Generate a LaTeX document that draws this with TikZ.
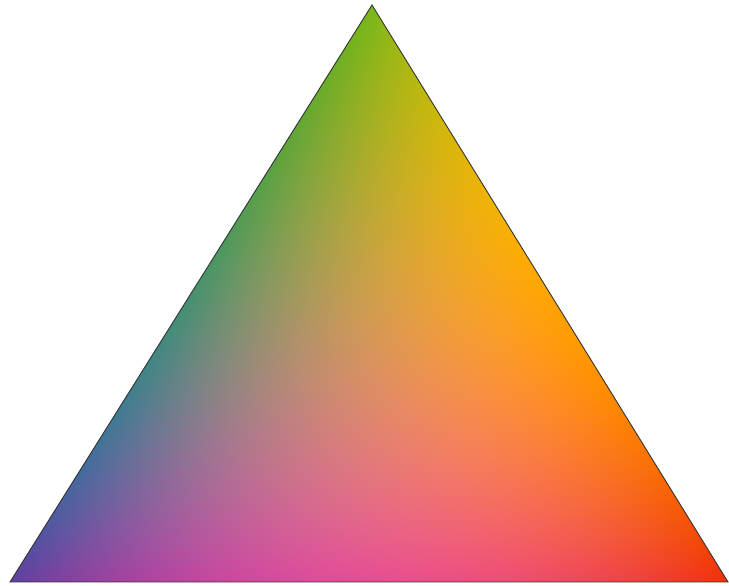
\documentclass[tikz,border=0pt]{standalone}
\usepackage{tikz}
\pgfdeclarefunctionalshading{trishade}{\pgfpointorigin}{\pgfpoint{729bp}{586bp}}{}{%
 4 sub 577 div exch 1 index 362 mul 10 add sub 718 div
 2 copy add 1 exch sub exch
 2 index dup 3 mul 1 sub 1 index 3 mul 2 sub mul mul 0.5 mul
 2 index dup 3 mul 1 sub 1 index 3 mul 2 sub mul mul 0.5 mul
 2 index dup 3 mul 1 sub 1 index 3 mul 2 sub mul mul 0.5 mul
 5 index 5 index 1 index 3 mul 1 sub mul mul 4.5 mul
 5 index 7 index 1 index 3 mul 1 sub mul mul 4.5 mul
 7 index 6 index 1 index 3 mul 1 sub mul mul 4.5 mul
 6 index 9 index 1 index 3 mul 1 sub mul mul 4.5 mul
 8 index 8 index 1 index 3 mul 1 sub mul mul 4.5 mul
 8 index 10 index 1 index 3 mul 1 sub mul mul 4.5 mul
 11 index 11 index mul 10 index mul 27 mul
 13 10 roll pop pop pop
 9 index 0.47 mul 9 index 0.38 mul add 8 index 0.95 mul add 7 index 0.33 mul add 6 index 0.25 mul add 5 index 0.94 mul add 4 index 1.00 mul add 3 index 0.82 mul add 2 index 0.93 mul add 1 index 0.86 mul add
 10 index 0.72 mul 10 index 0.25 mul add 9 index 0.18 mul add 8 index 0.62 mul add 7 index 0.50 mul add 6 index 0.70 mul add 5 index 0.55 mul add 4 index 0.28 mul add 3 index 0.30 mul add 2 index 0.55 mul add
 11 index 0.10 mul 11 index 0.62 mul add 10 index 0.04 mul add 9 index 0.30 mul add 8 index 0.55 mul add 7 index 0.02 mul add 6 index 0.00 mul add 5 index 0.62 mul add 4 index 0.48 mul add 3 index 0.40 mul add
 13 3 roll pop pop pop pop pop pop pop pop pop pop
}
\tikzset{edge/.style={draw=black!80, line width=0.9bp, line join=miter}}
\begin{document}
\begin{tikzpicture}[x=1bp,y=1bp]
\useasboundingbox (0,0) rectangle (729,586);
\fill[white] (0,0) rectangle (729,586);
\coordinate (T) at (372,581);
\coordinate (L) at (10,4);
\coordinate (R) at (728,4);
\begin{scope}
\clip (T) -- (L) -- (R) -- cycle;
\node[inner sep=0pt, outer sep=0pt, anchor=south west] (sh) at (0,0) {\pgfuseshading{trishade}};
\end{scope}
\draw[edge] (T) -- (L) -- (R) -- cycle;
\end{tikzpicture}
\end{document}
